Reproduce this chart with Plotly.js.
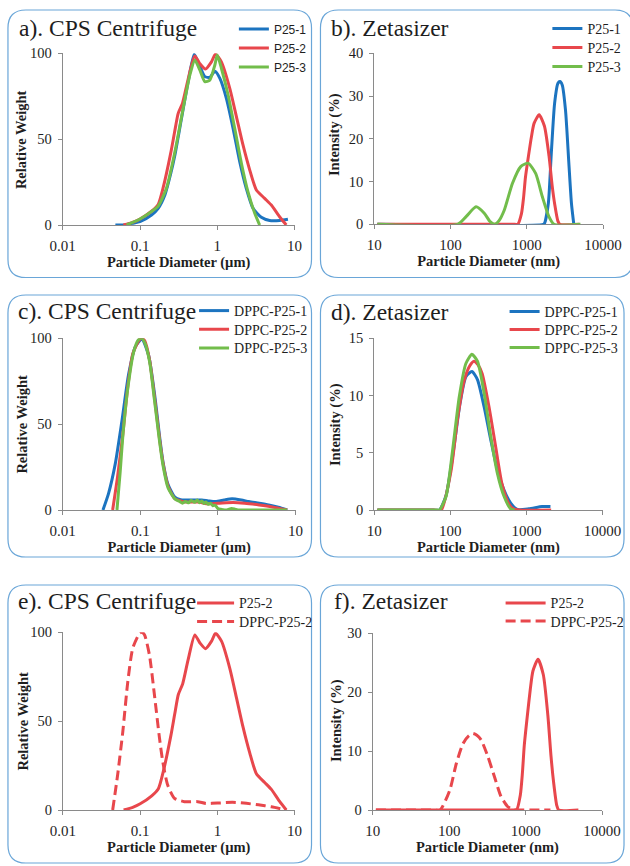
<!DOCTYPE html>
<html><head><meta charset="utf-8">
<script src="https://cdn.plot.ly/plotly-3.0.1.min.js"></script>
<style>body{margin:0;background:#fff}#chart{width:630px;height:866px}</style>
</head><body><div id="chart"></div>
<script>
// ---------------- data ----------------
const cpsTicks = [0.01, 0.1, 1, 10];
const cpsTickText = ['0.01', '0.1', '1', '10'];
const zetaTicks = [10, 100, 1000, 10000];
const zetaTickText = ['10', '100', '1000', '10000'];

const namesP25 = ['P25-1', 'P25-2', 'P25-3'];
const namesDPPC = ['DPPC-P25-1', 'DPPC-P25-2', 'DPPC-P25-3'];
const namesCompare = ['P25-2', 'DPPC-P25-2'];
const panelTitles = ['a). CPS Centrifuge', 'b). Zetasizer', 'c). CPS Centrifuge', 'd). Zetasizer', 'e). CPS Centrifuge', 'f). Zetasizer'];
const yTitles = ['Relative Weight', 'Intensity (%)', 'Relative Weight', 'Intensity (%)', 'Relative Weight', 'Intensity (%)'];

// CPS centrifuge: diameter (µm), relative weight
const cpsP25_1_d = [0.048, 0.064, 0.08, 0.1, 0.141, 0.172, 0.21, 0.25, 0.283, 0.344, 0.42, 0.502, 0.565, 0.69, 0.8, 0.93, 1.08, 1.31, 1.6, 1.95, 2.37, 2.9, 3.71, 4.75, 6.4, 8.2];
const cpsP25_1_w = [0, 0, 1, 2, 5.8, 9.7, 17.5, 30, 40.8, 62, 83.5, 99.4, 95, 86.4, 86, 89.5, 85.4, 73.8, 56.3, 36.9, 21.4, 9.7, 4.5, 2.6, 2.6, 3.3];
const cpsP25_2_d = [0.061, 0.08, 0.1, 0.141, 0.172, 0.2, 0.25, 0.28, 0.312, 0.355, 0.415, 0.51, 0.594, 0.703, 0.84, 0.946, 1.13, 1.45, 1.77, 2.15, 2.63, 3.2, 4.1, 5.0, 6.4, 7.8];
const cpsP25_2_w = [0, 1.5, 3.5, 8, 12, 22, 42, 54, 65, 71, 84, 98.5, 94, 90.8, 95, 99.5, 95, 79.6, 63, 46.6, 32, 20.4, 15.5, 11.6, 4.8, 0];
const cpsP25_3_d = [0.067, 0.1, 0.14, 0.172, 0.22, 0.283, 0.362, 0.442, 0.513, 0.594, 0.69, 0.8, 0.93, 1.0, 1.13, 1.38, 1.68, 2.05, 2.49, 3.05, 3.53];
const cpsP25_3_w = [0, 3.5, 7.8, 11, 21.4, 42.7, 68, 87.4, 96, 90.3, 83.5, 84.4, 93.2, 99, 91.3, 75.7, 56.3, 36, 19.4, 6.8, 0];

const cpsDPPC_1_d = [0.033, 0.039, 0.0476, 0.058, 0.0706, 0.086, 0.105, 0.128, 0.153, 0.178, 0.196, 0.227, 0.278, 0.33, 0.38, 0.5, 0.62, 0.75, 0.93, 1.2, 1.52, 2.0, 2.5, 3.4, 4.5, 6, 7.8];
const cpsDPPC_1_w = [0, 9.7, 27, 52, 79, 95, 99.5, 90, 67, 42, 28, 15, 7.5, 6, 5.8, 5.8, 5.8, 5.3, 4.9, 5.8, 6.5, 5.8, 4.9, 3.9, 2.9, 1.6, 0];
const cpsDPPC_2_d = [0.044, 0.051, 0.0595, 0.069, 0.08, 0.098, 0.105, 0.114, 0.132, 0.153, 0.178, 0.196, 0.227, 0.278, 0.374, 0.556, 0.71, 1.0, 1.57, 2.2, 3.4, 5, 7.8];
const cpsDPPC_2_w = [0, 19.7, 44, 72, 91, 99.4, 100, 98.5, 87, 64.7, 40.3, 27.2, 14, 6.6, 4.7, 4.7, 3.7, 3.9, 4.3, 3.9, 2.9, 1.8, 0];
const cpsDPPC_3_d = [0.05, 0.055, 0.06, 0.07, 0.082, 0.094, 0.104, 0.115, 0.132, 0.153, 0.178, 0.196, 0.227, 0.278, 0.32, 0.35, 0.38, 0.42, 0.45, 0.5, 0.54, 0.58, 0.62, 0.66, 0.7, 0.75, 0.8, 0.86, 0.92, 1.0, 1.1, 1.3, 1.5, 1.65, 1.8, 2.2, 7.8];
const cpsDPPC_3_w = [0, 22, 45, 73, 92, 99, 100, 97, 86, 63, 39, 26, 13, 6.5, 5, 4, 5, 4.2, 5.6, 4.5, 5.8, 4.2, 5.3, 3.8, 4.6, 3.3, 4, 2.5, 2.8, 0.8, 0.4, 0, 0.9, 0.5, 0, 0, 0];

// Zetasizer: diameter (nm), intensity (%)
const zetaP25_1_d = [11, 1650, 1714, 1915, 2094, 2313, 2558, 2716, 2911, 3215, 3556, 3846, 4130];
const zetaP25_1_v = [0, 0, 0.3, 4.9, 16.6, 28.3, 33, 33.4, 32.6, 26.7, 14.3, 4.9, 0];
const zetaP25_2_d = [11, 700, 760, 851, 906, 960, 1052, 1150, 1245, 1450, 1700, 1954, 2150, 2330, 2550, 2704, 4900];
const zetaP25_2_v = [0, 0, 0, 2.5, 6.2, 11, 16, 20.5, 23.6, 25.6, 23, 16, 9, 4.5, 0.8, 0, 0];
const zetaP25_3_d = [11, 124, 160, 216, 277, 331, 382, 430, 506, 649, 832, 1040, 1306, 1596, 1950, 2270, 5050];
const zetaP25_3_v = [0, 0, 1.8, 4.1, 2.6, 0.6, 0, 0.8, 3.3, 9.6, 13.5, 14.3, 11.9, 6.5, 1.8, 0, 0];

const zetaDPPC_1_d = [11, 60, 72, 88, 110, 134, 160, 192, 227, 278, 340, 415, 507, 620, 757, 1075, 1603, 2065];
const zetaDPPC_1_v = [0, 0, 0, 1.3, 5.2, 9.3, 11.65, 12.1, 11.4, 9.0, 6.1, 3.5, 1.75, 0.6, 0.05, 0.1, 0.3, 0.3];
const zetaDPPC_2_d = [11, 60, 76, 102, 124, 152, 180, 204, 230, 262, 320, 390, 476, 580, 675, 800, 2110];
const zetaDPPC_2_v = [0, 0, 0, 3.4, 7.9, 11.3, 12.6, 13.0, 12.7, 11.9, 9.1, 5.7, 2.3, 0.6, 0.1, 0, 0];
const zetaDPPC_3_d = [11, 65, 72, 88, 107, 131, 160, 192, 227, 278, 340, 415, 507, 620, 700];
const zetaDPPC_3_v = [0, 0, 0, 1.2, 5.2, 9.9, 12.8, 13.6, 13, 10.2, 6.4, 3.2, 1.2, 0.1, 0];

// ---------------- styling helpers ----------------
const W = 630, H = 866;
const fx = px => px / W;
const fy = py => 1 - py / H;
const BLUE = '#1c74c0', RED = '#e8474c', GREEN = '#72bd4b';
const SERIF = 'Liberation Serif';
const SANS = 'Liberation Sans';
const TXT = '#1e1e1e';
const AXC = '#8a8a8a';

function trace(x, y, name, color, n, leg, dash) {
  return {
    type: 'scatter', mode: 'lines', x: x, y: y, name: name,
    xaxis: 'x' + (n === 1 ? '' : n), yaxis: 'y' + (n === 1 ? '' : n),
    legend: leg,
    line: {color: color, width: 3, shape: 'spline', smoothing: 0.6, dash: dash || 'solid'},
    cliponaxis: false, hoverinfo: 'skip'
  };
}

const DASH = '10px,5px';
const data = [
  trace(cpsP25_1_d, cpsP25_1_w, namesP25[0], BLUE, 1, 'legend'),
  trace(cpsP25_2_d, cpsP25_2_w, namesP25[1], RED, 1, 'legend2'),
  trace(cpsP25_3_d, cpsP25_3_w, namesP25[2], GREEN, 1, 'legend3'),
  trace(zetaP25_1_d, zetaP25_1_v, namesP25[0], BLUE, 2, 'legend4'),
  trace(zetaP25_2_d, zetaP25_2_v, namesP25[1], RED, 2, 'legend5'),
  trace(zetaP25_3_d, zetaP25_3_v, namesP25[2], GREEN, 2, 'legend6'),
  trace(cpsDPPC_1_d, cpsDPPC_1_w, namesDPPC[0], BLUE, 3, 'legend7'),
  trace(cpsDPPC_2_d, cpsDPPC_2_w, namesDPPC[1], RED, 3, 'legend8'),
  trace(cpsDPPC_3_d, cpsDPPC_3_w, namesDPPC[2], GREEN, 3, 'legend9'),
  trace(zetaDPPC_1_d, zetaDPPC_1_v, namesDPPC[0], BLUE, 4, 'legend10'),
  trace(zetaDPPC_2_d, zetaDPPC_2_v, namesDPPC[1], RED, 4, 'legend11'),
  trace(zetaDPPC_3_d, zetaDPPC_3_v, namesDPPC[2], GREEN, 4, 'legend12'),
  trace(cpsP25_2_d, cpsP25_2_w, namesCompare[0], RED, 5, 'legend13'),
  trace(cpsDPPC_2_d, cpsDPPC_2_w, namesCompare[1], RED, 5, 'legend14', DASH),
  trace(zetaP25_2_d, zetaP25_2_v, namesCompare[0], RED, 6, 'legend15'),
  trace(zetaDPPC_2_d, zetaDPPC_2_v, namesCompare[1], RED, 6, 'legend16', DASH)
];

const layout = {
  width: W, height: H, margin: {l: 0, r: 0, t: 0, b: 0},
  paper_bgcolor: '#ffffff', plot_bgcolor: 'rgba(0,0,0,0)',
  font: {family: SERIF, color: TXT},
  showlegend: true, annotations: [], shapes: []
};

// axes: [x0px, x1px, ybottom px, ytop px, range, yticks, isZeta]
const axesDef = [
  [63, 296, 225, 53.3, [0, 100], [0, 50, 100], false],
  [376, 606, 224.3, 53.3, [0, 40], [0, 10, 20, 30, 40], true],
  [63, 297, 510, 338.3, [0, 100], [0, 50, 100], false],
  [376, 605.5, 510, 338.3, [0, 15], [0, 5, 10, 15], true],
  [63.3, 296, 810, 632.3, [0, 100], [0, 50, 100], false],
  [374.5, 605, 810, 633.3, [0, 30], [0, 10, 20, 30], true]
];

axesDef.forEach((a, i) => {
  const n = i + 1, sfx = n === 1 ? '' : n;
  const tickfont = {family: SERIF, size: 14.5, color: TXT};
  layout['xaxis' + sfx] = {
    domain: [fx(a[0]), fx(a[1])], anchor: 'y' + sfx, type: 'log',
    range: a[6] ? [1, 4] : [-2, 1],
    tickvals: a[6] ? zetaTicks : cpsTicks, ticktext: a[6] ? zetaTickText : cpsTickText,
    showgrid: false, zeroline: false, showline: true, linecolor: AXC, linewidth: 1,
    ticks: 'outside', ticklen: 4, tickcolor: AXC, tickfont: {family: SERIF, size: 15, color: TXT},
    ticklabelstandoff: 3, layer: 'below traces', fixedrange: true,
    title: {text: '<b>Particle Diameter (' + (a[6] ? 'nm' : 'µm') + ')</b>', font: {family: SERIF, size: 14.5, color: TXT}, standoff: 3}
  };
  layout['yaxis' + sfx] = {
    domain: [fy(a[2]), fy(a[3])], anchor: 'x' + sfx, range: a[4], tickvals: a[5],
    showgrid: false, zeroline: false, showline: true, linecolor: AXC, linewidth: 1,
    ticks: 'outside', ticklen: 4, tickcolor: AXC, tickfont: tickfont,
    ticklabelstandoff: 3, layer: 'below traces', fixedrange: true
  };
});

// y-axis titles (vertical): [centre x px, centre y px]
const yTitlePos = [[21.7, 139.5], [336.7, 135], [21.7, 424], [336.7, 425], [22.7, 721], [337.7, 721]];
yTitles.forEach((t, i) => {
  layout.annotations.push({
    text: '<b>' + t + '</b>', xref: 'paper', yref: 'paper', x: fx(yTitlePos[i][0]), y: fy(yTitlePos[i][1]),
    xanchor: 'center', yanchor: 'middle', textangle: -90, showarrow: false, borderpad: 0,
    font: {family: SERIF, size: 14.5, color: TXT}
  });
});

// legends: [id, line start px, row centre px, font family, size, itemwidth]
const legendDef = [
  ['legend', 240, 29, SANS, 12, 30], ['legend2', 240, 48, SANS, 12, 30], ['legend3', 240, 67, SANS, 12, 30],
  ['legend4', 555, 29, SERIF, 14, 30], ['legend5', 555, 48, SERIF, 14, 30], ['legend6', 555, 67, SERIF, 14, 30],
  ['legend7', 200, 311, SERIF, 14, 30], ['legend8', 200, 329.7, SERIF, 14, 30], ['legend9', 200, 348.3, SERIF, 14, 30],
  ['legend10', 512, 312, SERIF, 14, 30], ['legend11', 512, 330, SERIF, 14, 30], ['legend12', 512, 348, SERIF, 14, 30],
  ['legend13', 198, 603.3, SERIF, 14, 37], ['legend14', 198, 622, SERIF, 14, 37],
  ['legend15', 508, 603.3, SERIF, 14, 40], ['legend16', 508, 621.5, SERIF, 14, 40]
];
legendDef.forEach(l => {
  layout[l[0]] = {
    x: fx(l[1] - 5), y: fy(l[2]), xanchor: 'left', yanchor: 'middle',
    bgcolor: 'rgba(0,0,0,0)', borderwidth: 0, itemwidth: l[5],
    font: {family: l[3], size: l[4], color: TXT}, itemclick: false, itemdoubleclick: false
  };
});

// panel titles: [x px, baseline px]
const titlePos = [[18, 35], [331.7, 35], [16.7, 318.3], [331.7, 319.3], [16.7, 608.3], [335, 608.3]];
panelTitles.forEach((t, i) => {
  layout.annotations.push({
    text: t, xref: 'paper', yref: 'paper', x: fx(titlePos[i][0]), y: fy(titlePos[i][1] - 7.5),
    xanchor: 'left', yanchor: 'middle', showarrow: false, borderpad: 0,
    font: {family: SERIF, size: 23.5, color: TXT}
  });
});

// rounded panel frames (px): x0, y0, x1, y1
function roundedBox(x0, y0, x1, y1, r) {
  const X = v => fx(v).toFixed(5), Y = v => fy(v).toFixed(5);
  return 'M' + X(x0 + r) + ',' + Y(y0) + ' L' + X(x1 - r) + ',' + Y(y0) +
    ' Q' + X(x1) + ',' + Y(y0) + ' ' + X(x1) + ',' + Y(y0 + r) +
    ' L' + X(x1) + ',' + Y(y1 - r) + ' Q' + X(x1) + ',' + Y(y1) + ' ' + X(x1 - r) + ',' + Y(y1) +
    ' L' + X(x0 + r) + ',' + Y(y1) + ' Q' + X(x0) + ',' + Y(y1) + ' ' + X(x0) + ',' + Y(y1 - r) +
    ' L' + X(x0) + ',' + Y(y0 + r) + ' Q' + X(x0) + ',' + Y(y0) + ' ' + X(x0 + r) + ',' + Y(y0) + ' Z';
}
const frames = [[8, 10, 313, 277.5], [322, 10, 636, 277.5], [8, 295, 313, 557], [322, 295, 627, 557], [8, 585, 313, 863], [322, 585, 627, 863]];
frames.forEach(f => {
  layout.shapes.push({type: 'path', xref: 'paper', yref: 'paper', path: roundedBox(f[0], f[1], f[2], f[3], 18),
    line: {color: '#6aa6d8', width: 1.2}, fillcolor: 'rgba(0,0,0,0)', layer: 'below'});
});

Plotly.newPlot('chart', data, layout, {displayModeBar: false, staticPlot: true});
</script></body></html>
